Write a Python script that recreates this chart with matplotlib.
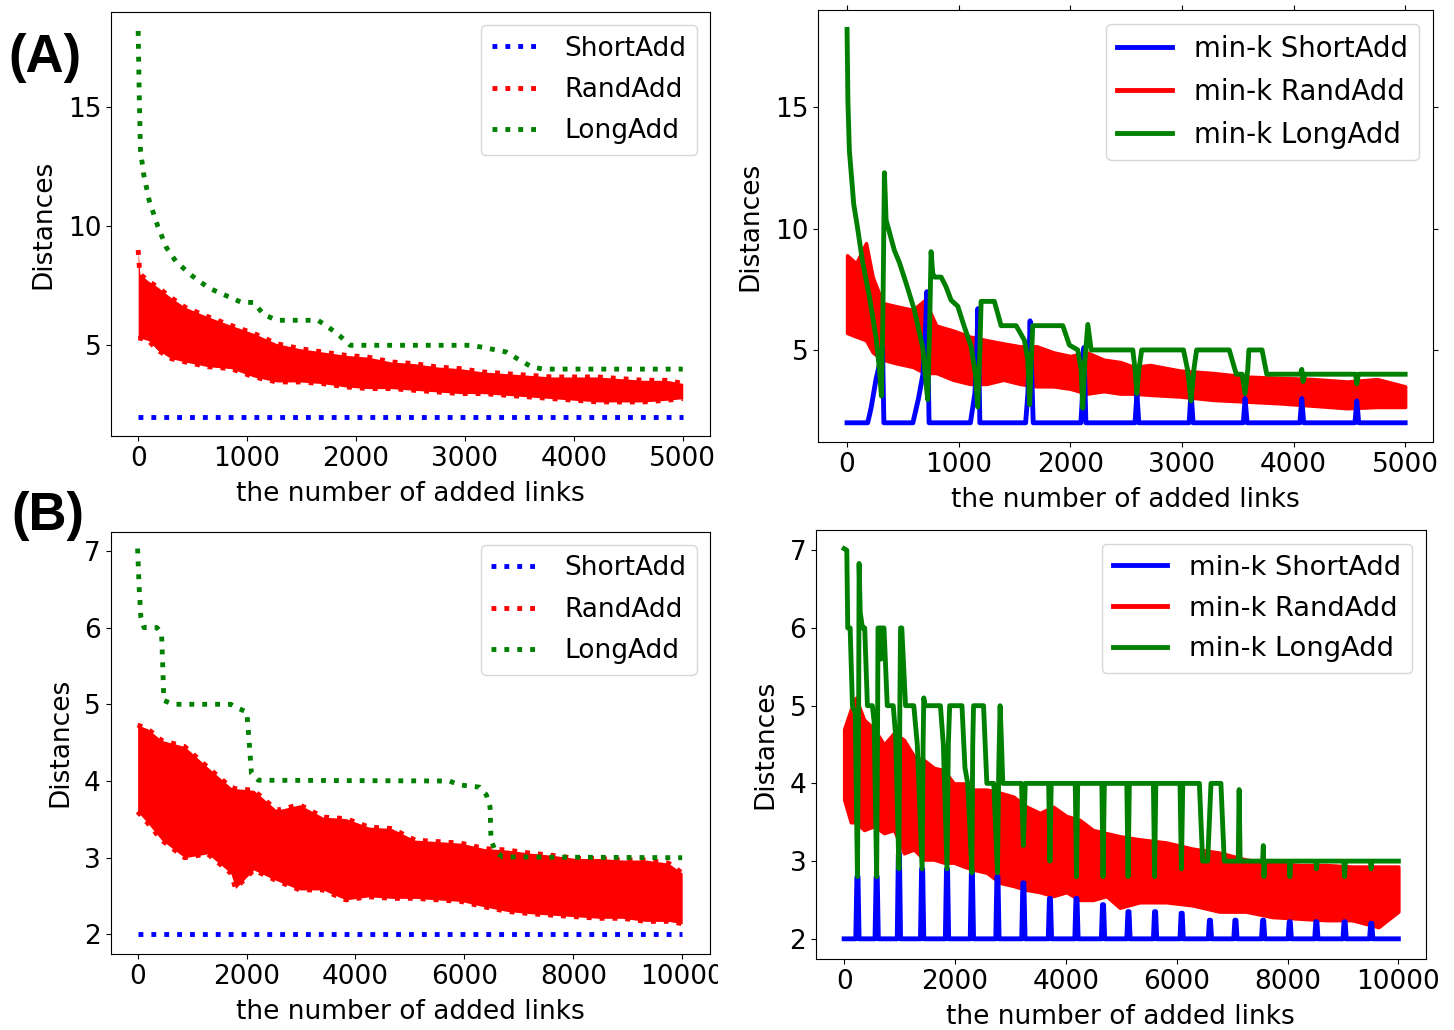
import matplotlib
matplotlib.use("Agg")
import matplotlib.pyplot as plt
from matplotlib.lines import Line2D
from matplotlib.patches import Rectangle

# ---- (A) left: 5000 added links, raw distances ----
a_x_end = [0, 5000]
a_short = [2, 2]
a_long_x = [0, 10, 21, 50, 100, 180, 260, 350, 500, 650, 800, 950, 1061, 1150, 1272,
            1651, 1750, 1850, 1946, 3041, 3146, 3378, 3505, 3610, 3715, 5000]
a_long_y = [18.2, 15.5, 13.2, 12.2, 11.1, 10.0, 9.1, 8.5, 7.9, 7.4, 7.1, 6.8, 6.8, 6.3, 6.05,
            6.05, 5.75, 5.4, 5.0, 5.0, 4.93, 4.72, 4.37, 4.1, 4.0, 4.0]
a_rand_x = [0, 15, 93, 177, 303, 430, 640, 851, 1061, 1272, 1483, 1693, 1904, 2115, 2325,
            2536, 2746, 2957, 3168, 3378, 3589, 3800, 4010, 4221, 4431, 4642, 4853, 5000]
a_rand_hi = [9.0, 8.0, 7.7, 7.45, 7.0, 6.6, 6.2, 5.84, 5.5, 5.07, 4.86, 4.72, 4.58, 4.5, 4.3,
             4.23, 4.09, 4.02, 3.88, 3.81, 3.74, 3.67, 3.67, 3.67, 3.6, 3.53, 3.53, 3.4]
a_rand_lo = [5.3, 5.3, 5.2, 4.8, 4.44, 4.3, 4.1, 4.02, 3.67, 3.46, 3.46, 3.39, 3.25, 3.18, 3.18,
             3.11, 3.04, 2.97, 2.97, 2.9, 2.83, 2.76, 2.69, 2.62, 2.62, 2.62, 2.69, 2.76]

# ---- (A) right: min-k ----
ak_short_x = [0, 185, 215, 260, 300, 318, 330, 590, 640, 680, 700, 715, 735, 1105, 1145,
              1160, 1172, 1190, 1600, 1620, 1640, 1668, 2095, 2110, 2122, 2140, 2580, 2597,
              2614, 3065, 3082, 3100, 3550, 3566, 3584, 4057, 4074, 4091, 4550, 4567, 4584, 5000]
ak_short_y = [2, 2, 2.6, 3.8, 4.6, 5.1, 2, 2, 3.0, 4.0, 5.5, 7.4, 2, 2, 3.2,
              4.5, 6.7, 2, 2, 3.2, 6.2, 2, 2, 3.2, 5.1, 2, 2, 3.2,
              2, 2, 3.3, 2, 2, 3.0, 2, 2, 3.0, 2, 2, 2.9, 2, 2]
ak_long_x = [0, 8, 21, 60, 95, 140, 200, 260, 290, 308, 320, 335, 350, 424, 469, 529, 603,
             678, 700, 723, 740, 753, 768, 783, 843, 887, 932, 992, 1051, 1111, 1150, 1171,
             1190, 1201, 1320, 1380, 1515, 1589, 1619, 1636, 1650, 1664, 1933, 1992, 2067,
             2097, 2112, 2130, 2157, 2187, 2560, 2580, 2596, 2615, 2640, 3014, 3050, 3082,
             3110, 3132, 3424, 3487, 3540, 3566, 3590, 3600, 3718, 3760, 4060, 4074, 4085,
             4100, 4555, 4567, 4580, 5000]
ak_long_y = [18.2, 15.2, 13.2, 11.0, 10.0, 8.6, 7.2, 5.5, 4.2, 3.1, 6.0, 12.3, 10.35, 9.1, 8.6,
             7.75, 6.65, 5.1, 4.0, 2.95, 6.0, 9.05, 8.15, 8.0, 8.0, 7.6, 7.05, 6.8, 5.95, 5.15,
             4.0, 2.65, 5.0, 7.0, 7.0, 6.0, 6.0, 5.4, 4.6, 2.75, 4.5, 6.0, 6.0, 5.2, 5.0,
             4.2, 2.6, 4.5, 6.05, 5.0, 5.0, 4.2, 3.2, 4.2, 5.0, 5.0, 4.2, 2.9,
             4.3, 5.0, 5.0, 4.0, 4.0, 3.2, 4.2, 5.0, 5.0, 4.0, 4.0, 4.2, 3.7,
             4.0, 4.0, 3.6, 4.0, 4.0]
ak_rand_x = [0, 81, 170, 230, 320, 440, 590, 695, 800, 950, 1100, 1250, 1400, 1550, 1700,
             1850, 2000, 2150, 2300, 2450, 2570, 2715, 2984, 3283, 3582, 3881, 4180, 4480,
             4749, 5000]
ak_rand_hi = [8.9, 8.57, 9.4, 8.0, 6.93, 6.8, 6.65, 7.05, 6.0, 5.8, 5.55, 5.4, 5.27, 5.15, 5.15,
              4.9, 4.75, 4.9, 4.6, 4.5, 4.3, 4.38, 4.15, 4.05, 3.9, 3.85, 3.8, 3.7, 3.8, 3.5]
ak_rand_lo = [5.7, 5.55, 5.4, 4.9, 4.6, 4.45, 4.3, 4.05, 4.05, 3.77, 3.6, 3.6, 3.77, 3.6, 3.5,
              3.5, 3.4, 3.2, 3.3, 3.2, 3.2, 3.15, 3.08, 2.94, 2.87, 2.8, 2.7, 2.6, 2.65, 2.65]

# ---- (B) left: 10000 added links, raw distances ----
b_x_end = [0, 10000]
b_short = [2, 2]
b_long_x = [0, 30, 59, 118, 355, 440, 460, 482, 651, 1709, 1836, 2005, 2047, 2090, 2217,
            5728, 5897, 6277, 6404, 6472, 6489, 6574, 6701, 10000]
b_long_y = [7.03, 6.5, 6.14, 6.0, 6.0, 5.92, 5.53, 5.05, 5.0, 5.0, 4.95, 4.9, 4.53, 4.1, 4.01,
            4.0, 3.95, 3.92, 3.82, 3.66, 3.23, 3.08, 3.01, 3.0]
b_rand_x = [0, 186, 440, 863, 1286, 1709, 1800, 2132, 2555, 2978, 3401, 3824, 4247, 4670,
            5093, 5516, 5939, 6362, 6785, 7208, 7631, 8054, 8477, 8900, 9323, 9746, 10000]
b_rand_hi = [4.73, 4.68, 4.53, 4.45, 4.18, 3.92, 3.9, 3.88, 3.62, 3.69, 3.53, 3.51, 3.4, 3.38,
             3.23, 3.21, 3.19, 3.12, 3.1, 3.06, 3.03, 2.99, 2.99, 2.97, 2.97, 2.93, 2.8]
b_rand_lo = [3.6, 3.45, 3.23, 3.0, 3.05, 2.8, 2.6, 2.84, 2.7, 2.58, 2.58, 2.45, 2.49, 2.47,
             2.47, 2.45, 2.43, 2.36, 2.3, 2.27, 2.25, 2.23, 2.21, 2.21, 2.17, 2.17, 2.14]

# ---- (B) right: min-k ----
bk_spike_x = [240, 587, 988, 1407, 1856, 2305, 2766, 3234, 3713, 4192, 4671, 5130, 5610,
              6090, 6600, 7060, 7560, 8040, 8520, 9030, 9510]
bk_spike_y = [2.8, 2.8, 3.1, 2.9, 2.9, 2.85, 2.8, 2.72, 2.52, 2.52, 2.44, 2.35, 2.35,
              2.33, 2.24, 2.24, 2.24, 2.22, 2.22, 2.22, 2.2]
bk_long_x = [0, 48, 65, 108, 150, 200, 240, 262, 270, 290, 330, 371, 420, 509, 540, 587, 605,
             611, 650, 665, 680, 719, 778, 886, 930, 988, 1005, 1018, 1040, 1108, 1257, 1320,
             1407, 1425, 1437, 1460, 1737, 1790, 1856, 1880, 1904, 2126, 2180, 2230, 2305,
             2320, 2335, 2515, 2575, 2700, 2766, 2790, 2814, 2840, 2862, 3200, 3234, 3268,
             3690, 3713, 3736, 4170, 4192, 4214, 4650, 4671, 4695, 5100, 5123, 5146, 5580,
             5601, 5624, 6060, 6085, 6110, 6409, 6469, 6559, 6619, 6798, 6858, 7110, 7127,
             7145, 7550, 7563, 7575, 7590, 8030, 8042, 8055, 8510, 8521, 8535, 9015, 9029,
             9045, 9495, 9508, 9520, 10000]
bk_long_y = [7.02, 7.0, 6.0, 6.0, 5.0, 4.9, 2.8, 5.0, 6.83, 6.2, 6.0, 6.0, 5.0, 5.0, 4.8, 2.8,
             5.0, 6.0, 6.0, 5.6, 6.0, 6.0, 5.0, 5.0, 4.6, 2.9, 5.0, 6.0, 6.0, 5.0, 5.0, 4.5,
             2.9, 4.5, 5.1, 5.0, 5.0, 4.5, 2.9, 4.5, 5.0, 5.0, 4.2, 4.0, 2.85,
             4.5, 5.0, 5.0, 4.0, 4.0, 2.85, 4.2, 5.0, 4.5, 4.0, 4.0, 3.2, 4.0,
             4.0, 3.0, 4.0, 4.0, 2.8, 4.0, 4.0, 2.8, 4.0, 4.0, 2.8, 4.0, 4.0,
             2.8, 4.0, 4.0, 2.9, 4.0, 4.0, 3.0, 3.0, 4.0, 4.0, 3.0, 3.0, 3.92,
             3.0, 3.0, 3.2, 2.8, 3.0, 3.0, 2.8, 3.0, 3.0, 2.9, 3.0, 3.0, 2.8,
             3.0, 3.0, 2.9, 3.0, 3.0]
bk_rand_x = [0, 120, 210, 360, 540, 720, 900, 1080, 1260, 1440, 1620, 1800, 1980, 2160, 2335,
             2575, 2814, 3054, 3293, 3533, 3772, 4012, 4251, 4491, 4731, 4973, 5332, 5811,
             6290, 6769, 7247, 7726, 8205, 8684, 9163, 9641, 10000]
bk_rand_hi = [4.7, 4.95, 5.1, 4.82, 4.7, 4.5, 4.65, 4.56, 4.35, 4.3, 4.2, 4.17, 4.0, 4.0, 3.92,
              3.92, 3.88, 3.83, 3.7, 3.62, 3.7, 3.58, 3.53, 3.4, 3.36, 3.32, 3.28, 3.24,
              3.16, 3.11, 3.02, 2.98, 2.95, 2.95, 2.93, 2.93, 2.93]
bk_rand_lo = [3.79, 3.5, 3.5, 3.4, 3.45, 3.36, 3.4, 3.1, 3.15, 3.02, 3.02, 2.98, 2.98, 2.93, 2.89,
              2.85, 2.72, 2.68, 2.63, 2.6, 2.55, 2.6, 2.5, 2.5, 2.55, 2.4, 2.47, 2.47,
              2.43, 2.35, 2.35, 2.28, 2.26, 2.24, 2.24, 2.15, 2.35]

FS = 19
LW = 3.5


def spikes_to_line(spike_x, spike_y, x_end, half=30):
    """Turns spike positions/heights into the polyline vertices of a baseline-2 curve."""
    xs, ys = [0], [2]
    for sx, sy in zip(spike_x, spike_y):
        xs += [sx - half, sx - half / 3, sx + half / 3, sx + half]
        ys += [2, sy, sy, 2]
    xs.append(x_end)
    ys.append(2)
    return xs, ys


def style_axes(ax, xlim, ylim, xticks, yticks):
    ax.set_xlim(*xlim)
    ax.set_ylim(*ylim)
    ax.set_xticks(xticks)
    ax.set_yticks(yticks)
    ax.tick_params(labelsize=FS)
    ax.set_xlabel('the number of added links', fontsize=FS, labelpad=7)
    ax.set_ylabel('Distances', fontsize=FS, labelpad=8)


def raw_panel(ax, x_end, short, long_x, long_y, rand_x, rand_hi, rand_lo):
    ax.plot(x_end, short, color='blue', ls=':', lw=LW)
    ax.fill_between(rand_x, rand_lo, rand_hi, color='red', lw=0)
    ax.plot(rand_x, rand_hi, color='red', ls=':', lw=LW)
    ax.plot(rand_x, rand_lo, color='red', ls=':', lw=LW)
    ax.plot(long_x, long_y, color='green', ls=':', lw=LW)
    handles = [Line2D([], [], color=c, ls=':', lw=LW) for c in ('blue', 'red', 'green')]
    ax.legend(handles, ['ShortAdd', 'RandAdd', 'LongAdd'], loc='upper right', fontsize=FS,
              labelspacing=0.58, handlelength=1.8, handletextpad=0.95)


def mink_panel(ax, short_x, short_y, long_x, long_y, rand_x, rand_hi, rand_lo, fs):
    ax.plot(short_x, short_y, color='blue', lw=LW)
    ax.fill_between(rand_x, rand_lo, rand_hi, color='red', lw=2.5)
    ax.plot(long_x, long_y, color='green', lw=LW)
    handles = [Line2D([], [], color=c, lw=LW) for c in ('blue', 'red', 'green')]
    ax.legend(handles, ['min-k ShortAdd', 'min-k RandAdd', 'min-k LongAdd'],
              loc='upper right', fontsize=fs, labelspacing=0.55, handletextpad=0.8)


def main():
    fig = plt.figure(figsize=(14.54, 10.30), dpi=100)
    ax_tl = fig.add_axes([0.0763, 0.5767, 0.412, 0.4117])
    ax_tr = fig.add_axes([0.5626, 0.5709, 0.4230, 0.4194])
    ax_bl = fig.add_axes([0.0761, 0.0738, 0.412, 0.4100])
    ax_br = fig.add_axes([0.5612, 0.0689, 0.4193, 0.4165])

    raw_panel(ax_tl, a_x_end, a_short, a_long_x, a_long_y, a_rand_x, a_rand_hi, a_rand_lo)
    style_axes(ax_tl, (-250, 5250), (1.19, 19.0), range(0, 5001, 1000), [5, 10, 15])

    mink_panel(ax_tr, ak_short_x, ak_short_y, ak_long_x, ak_long_y,
               ak_rand_x, ak_rand_hi, ak_rand_lo, 19.8)
    style_axes(ax_tr, (-260, 5250), (1.21, 19.0), range(0, 5001, 1000), [5, 10, 15])
    ax_tr.tick_params(top=True, right=True)

    raw_panel(ax_bl, b_x_end, b_short, b_long_x, b_long_y, b_rand_x, b_rand_hi, b_rand_lo)
    style_axes(ax_bl, (-495, 10505), (1.745, 7.25), range(0, 10001, 2000), range(2, 8))

    bk_short_x, bk_short_y = spikes_to_line(bk_spike_x, bk_spike_y, 10000)
    mink_panel(ax_br, bk_short_x, bk_short_y, bk_long_x, bk_long_y,
               bk_rand_x, bk_rand_hi, bk_rand_lo, 19.6)
    style_axes(ax_br, (-508, 10492), (1.74, 7.26), range(0, 10001, 2000), range(2, 8))

    # the original panel was cropped just past its right edge
    clip = Rectangle((0, 0), 718 / 1454, 1, transform=fig.transFigure)
    for lbl in ax_bl.get_xticklabels():
        lbl.set_clip_path(clip)

    fig.text(0.006, 1 - 72 / 1030, '(A)', fontsize=38, fontweight='bold',
             family='Liberation Sans', va='baseline')
    fig.text(0.008, 1 - 530 / 1030, '(B)', fontsize=38, fontweight='bold',
             family='Liberation Sans', va='baseline')

    fig.savefig('out.png', dpi=100)


if __name__ == "__main__":
    main()
